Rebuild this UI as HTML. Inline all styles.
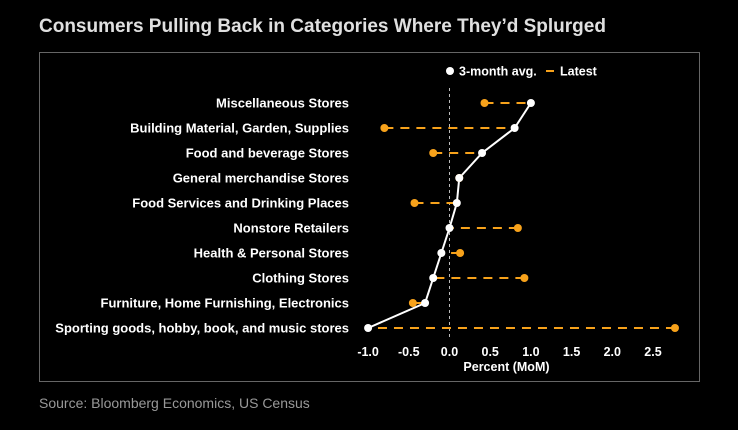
<!DOCTYPE html>
<html><head><meta charset="utf-8"><style>
body{margin:0;background:#000;width:738px;height:425px;overflow:hidden;font-family:"Liberation Sans",sans-serif}
</style></head><body>
<svg width="738" height="425">
<text x="39" y="32" fill="#e0e0e0" font-size="19" font-weight="bold">Consumers Pulling Back in Categories Where They’d Splurged</text>
<rect x="39.5" y="52.5" width="660" height="329" fill="none" stroke="#666"/>
<text x="39" y="408" fill="#999" font-size="14">Source: Bloomberg Economics, US Census</text>
<g>
<circle cx="450" cy="71" r="4" fill="#fff"/>
<text x="459" y="75.5" fill="#fff" font-size="12.5" font-weight="bold">3-month avg.</text>
<line x1="546" y1="71" x2="554" y2="71" stroke="#f7a21b" stroke-width="2"/>
<text x="560" y="75.5" fill="#fff" font-size="12.5" font-weight="bold">Latest</text>
</g>
<g id="plot"></g>
</svg>
<script>
const categories=["Miscellaneous Stores","Building Material, Garden, Supplies","Food and beverage Stores","General merchandise Stores","Food Services and Drinking Places","Nonstore Retailers","Health & Personal Stores","Clothing Stores","Furniture, Home Furnishing, Electronics","Sporting goods, hobby, book, and music stores"];
const avg3m=[1.0,0.8,0.4,0.12,0.09,0.0,-0.1,-0.2,-0.3,-1.0];
const latest=[0.43,-0.8,-0.2,0.12,-0.43,0.84,0.13,0.92,-0.45,2.77];
const ticks=[-1.0,-0.5,0.0,0.5,1.0,1.5,2.0,2.5];
const tickLabels=["-1.0","-0.5","0.0","0.5","1.0","1.5","2.0","2.5"];
const NS="http://www.w3.org/2000/svg";
const g=document.getElementById('plot');
const x=v=>449.5+v*81.4;
const y=i=>103+i*25;
function mk(t,a){const e=document.createElementNS(NS,t);for(const k in a)e.setAttribute(k,a[k]);g.appendChild(e);return e;}
let zl=mk('line',{x1:x(0),x2:x(0),y1:88,y2:340,stroke:'#bbb','stroke-width':1,'stroke-dasharray':'3,3'});


ticks.forEach((t,i)=>{const e=mk('text',{x:x(t),y:356,fill:'#fff','font-size':12.5,'font-weight':'bold','text-anchor':'middle'});e.textContent=tickLabels[i];

});
let xt=mk('text',{x:x(0.7),y:371,fill:'#fff','font-size':12.5,'font-weight':'bold','text-anchor':'middle'});xt.textContent="Percent (MoM)";


categories.forEach((c,i)=>{
const l=mk('text',{x:349,y:y(i)+4.5,fill:'#fff','font-size':13,'font-weight':'bold','text-anchor':'end'});l.textContent=c;


const d=mk('line',{x1:x(latest[i]),x2:x(avg3m[i]),y1:y(i),y2:y(i),stroke:'#f7a21b','stroke-width':2,'stroke-dasharray':'9,7'});


});
const pts=avg3m.map((v,i)=>x(v)+','+y(i)).join(' ');
const pl=mk('polyline',{points:pts,fill:'none',stroke:'#fff','stroke-width':2});


latest.forEach((v,i)=>{const c=mk('circle',{cx:x(v),cy:y(i),r:4,fill:'#f7a21b'});

});
avg3m.forEach((v,i)=>{const c=mk('circle',{cx:x(v),cy:y(i),r:4,fill:'#fff'});

});
</script>
</body></html>
